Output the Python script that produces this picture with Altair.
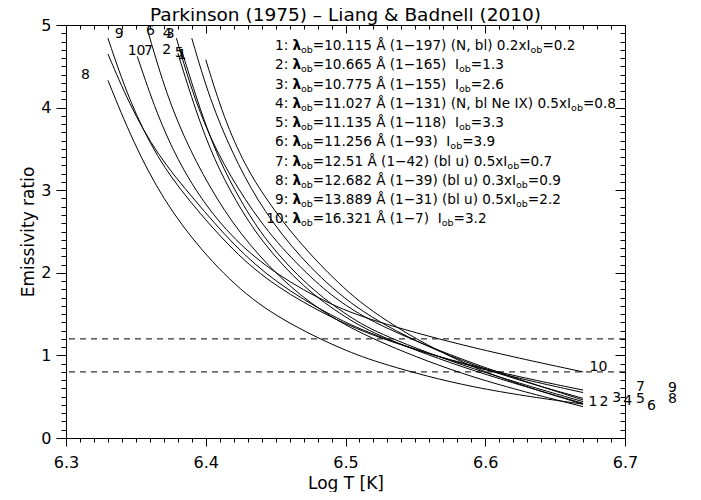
import altair as alt
import pandas as pd

W, H = 559, 413
X0, X1 = 6.3, 6.7
Y0, Y1 = 0.0, 5.0

# ---------------- curves ----------------
curve_names = ["1", "2", "3", "4", "5", "6", "7", "8", "9", "10"]
c1_x = [6.380, 6.393, 6.406, 6.421, 6.440, 6.470, 6.500, 6.525, 6.590, 6.670]
c1_y = [4.66, 3.95, 3.37, 2.88, 2.37, 1.815, 1.455, 1.22, 0.81, 0.42]
c2_x = [6.400, 6.413, 6.428, 6.4436, 6.465, 6.495, 6.525, 6.590, 6.670]
c2_y = [4.58, 3.87, 3.30, 2.88, 2.40, 1.86, 1.44, 0.82, 0.41]
c3_x = [6.390, 6.403, 6.419, 6.4365, 6.460, 6.490, 6.525, 6.590, 6.670]
c3_y = [4.84, 4.09, 3.45, 2.88, 2.33, 1.80, 1.37, 0.86, 0.48]
c4_x = [6.379, 6.392, 6.408, 6.428, 6.450, 6.480, 6.500, 6.525, 6.590, 6.670]
c4_y = [4.84, 4.09, 3.45, 2.88, 2.37, 1.86, 1.60, 1.35, 0.895, 0.46]
c5_x = [6.383, 6.396, 6.409, 6.4245, 6.443, 6.473, 6.503, 6.525, 6.590, 6.670]
c5_y = [4.68, 3.97, 3.38, 2.88, 2.38, 1.83, 1.46, 1.25, 0.83, 0.44]
c6_x = [6.359, 6.372, 6.388, 6.408, 6.430, 6.460, 6.490, 6.525, 6.590, 6.670]
c6_y = [4.90, 4.15, 3.50, 2.88, 2.35, 1.82, 1.45, 1.15, 0.72, 0.38]
c7_x = [6.330, 6.345, 6.365, 6.392, 6.420, 6.450, 6.490, 6.525, 6.590, 6.670]
c7_y = [4.65, 4.05, 3.43, 2.88, 2.33, 1.88, 1.47, 1.21, 0.85, 0.55]
c8_x = [6.330, 6.348, 6.3696, 6.396, 6.429, 6.463, 6.498, 6.525, 6.590, 6.670]
c8_y = [4.33, 3.58, 2.88, 2.28, 1.71, 1.35, 1.07, 0.90, 0.60, 0.41]
c9_x = [6.330, 6.345, 6.365, 6.3875, 6.420, 6.450, 6.490, 6.525, 6.590, 6.670]
c9_y = [4.84, 4.09, 3.39, 2.88, 2.25, 1.83, 1.45, 1.20, 0.86, 0.58]
c10_x = [6.351, 6.365, 6.380, 6.397, 6.420, 6.450, 6.490, 6.525, 6.590, 6.670]
c10_y = [4.62, 3.92, 3.36, 2.88, 2.40, 1.98, 1.60, 1.39, 1.09, 0.80]

curves_x = [c1_x, c2_x, c3_x, c4_x, c5_x, c6_x, c7_x, c8_x, c9_x, c10_x]
curves_y = [c1_y, c2_y, c3_y, c4_y, c5_y, c6_y, c7_y, c8_y, c9_y, c10_y]

# dashed reference levels
ref_levels = [1.2, 0.8]

# labels at the top of the curves
top_lab_text = ["9", "6", "4", "3", "10", "7", "2", "5", "1", "8"]
top_lab_x = [6.338, 6.3605, 6.3725, 6.3745, 6.3505, 6.359, 6.372, 6.381, 6.383, 6.314]
top_lab_y = [4.89, 4.93, 4.89, 4.89, 4.69, 4.68, 4.70, 4.66, 4.64, 4.40]

# labels at the end of the curves
end_lab_text = ["10", "1", "2", "3", "4", "5", "7", "6", "9", "8"]
end_lab_x = [6.681, 6.677, 6.685, 6.694, 6.702, 6.711, 6.711, 6.719, 6.734, 6.734]
end_lab_y = [0.86, 0.44, 0.43, 0.49, 0.45, 0.47, 0.62, 0.39, 0.60, 0.47]

# legend text
leg_num = ["1", "2", "3", "4", "5", "6", "7", "8", "9", "10"]
leg_wave = ["10.115", "10.665", "10.775", "11.027", "11.135", "11.256", "12.51", "12.682", "13.889", "16.321"]
leg_trans = ["(1\u2212197)", "(1\u2212165)", "(1\u2212155)", "(1\u2212131)", "(1\u2212118)",
             "(1\u221293)", "(1\u221242)", "(1\u221239)", "(1\u221231)", "(1\u22127)"]
leg_note = ["(N, bl) 0.2x", "", "", "(N, bl Ne IX) 0.5x", "", "", "(bl u) 0.5x", "(bl u) 0.3x", "(bl u) 0.5x", ""]
leg_iob = ["0.2", "1.3", "2.6", "0.8", "3.3", "3.9", "0.7", "0.9", "2.2", "3.2"]

x_major = [6.3, 6.4, 6.5, 6.6, 6.7]
x_minor = [round(6.3 + 0.01 * i, 2) for i in range(41)]
y_major = [0, 1, 2, 3, 4, 5]
y_minor = [round(0.1 * i, 1) for i in range(51)]

FONT = "DejaVu Sans"

# ---------------- tables ----------------
rows = []
for name, xs, ys in zip(curve_names, curves_x, curves_y):
    for k, (xv, yv) in enumerate(zip(xs, ys)):
        rows.append({"curve": name, "x": xv, "y": yv, "k": k})
df_curves = pd.DataFrame(rows)
df_ref = pd.DataFrame({"y": ref_levels})
df_top = pd.DataFrame({"x": top_lab_x, "y": top_lab_y, "t": top_lab_text})
df_end = pd.DataFrame({"x": end_lab_x, "y": end_lab_y, "t": end_lab_text})

# legend layout (approximate DejaVu Sans advance widths, em units)
CW = {" ": 0.318, ".": 0.318, ":": 0.337, "=": 0.838, "(": 0.390, ")": 0.390,
      "\u2212": 0.838, ",": 0.318, "\u00c5": 0.684, "N": 0.748, "b": 0.635,
      "l": 0.278, "e": 0.615, "I": 0.295, "X": 0.686, "u": 0.634, "x": 0.592,
      "o": 0.612, "\u03bb": 0.62}
for d in "0123456789":
    CW[d] = 0.636


def tw(s, size):
    return sum(CW.get(c, 0.6) for c in s) * size


FS, FS_SUB = 13.6, 9.5
px_x = W / (X1 - X0)
px_y = H / (Y1 - Y0)
LEG_LEFT = 209.0   # px from plot left
LEG_TOP = 20.0     # px from plot top (centre of first line)
LEG_STEP = 19.25

norm_rows, pref_rows, sub_rows, bold_rows = [], [], [], []


def to_x(px):
    return X0 + px / px_x


def to_y(py):
    return Y1 - py / px_y


def put_words(s, cursor, yb):
    word, start = "", cursor
    for c in s:
        if c == " ":
            if word:
                norm_rows.append({"x": to_x(start), "y": yb, "t": word})
                word = ""
            cursor += tw(" ", FS)
            start = cursor
        else:
            if not word:
                start = cursor
            word += c
            cursor += tw(c, FS)
    if word:
        norm_rows.append({"x": to_x(start), "y": yb, "t": word})
    return cursor


lam_px = LEG_LEFT + tw("1: ", FS)
for i in range(len(leg_num)):
    base_px = LEG_TOP + i * LEG_STEP + 5.0
    yb = to_y(base_px)
    ys = to_y(base_px + 3.0)
    pref_rows.append({"x": to_x(lam_px - tw(" ", FS)), "y": yb, "t": leg_num[i] + ":"})
    bold_rows.append({"x": to_x(lam_px), "y": yb, "t": "\u03bb"})
    cur = lam_px + tw("\u03bb", FS)
    sub_rows.append({"x": to_x(cur), "y": ys, "t": "ob"})
    cur += tw("ob", FS_SUB)
    mid = "=" + leg_wave[i] + " \u00c5 " + leg_trans[i] + " " + (leg_note[i] if leg_note[i] else " ") + "I"
    cur = put_words(mid, cur, yb)
    sub_rows.append({"x": to_x(cur), "y": ys, "t": "ob"})
    cur += tw("ob", FS_SUB)
    put_words("=" + leg_iob[i], cur, yb)

df_norm = pd.DataFrame(norm_rows)
df_pref = pd.DataFrame(pref_rows)
df_sub = pd.DataFrame(sub_rows)
df_bold = pd.DataFrame(bold_rows)

# ---------------- scales & axes ----------------
xs_ = alt.Scale(domain=[X0, X1], nice=False, zero=False)
ys_ = alt.Scale(domain=[Y0, Y1], nice=False, zero=False)

ax_bottom_major = alt.Axis(orient="bottom", values=x_major, format=".1f", tickSize=8,
                           labelPadding=8, labelFlush=False, title="Log T [K]", titlePadding=5)
ax_bottom_minor = alt.Axis(orient="bottom", values=x_minor, tickSize=4, labels=False, title=None)
ax_top_major = alt.Axis(orient="bottom", offset=-H, values=x_major, tickSize=8, labels=False, title=None)
ax_top_minor = alt.Axis(orient="bottom", offset=-H, values=x_minor, tickSize=4, labels=False, title=None)
ax_left_major = alt.Axis(orient="left", values=y_major, format="d", tickSize=10, labelFlush=False,
                         labelPadding=5, title="Emissivity ratio", titlePadding=3)
ax_left_minor = alt.Axis(orient="left", values=y_minor, tickSize=5, labels=False, title=None)
ax_right_major = alt.Axis(orient="left", offset=-W, values=y_major, tickSize=10, labels=False, title=None)
ax_right_minor = alt.Axis(orient="left", offset=-W, values=y_minor, tickSize=5, labels=False, title=None)

lines = alt.Chart(df_curves).mark_line(color="black", strokeWidth=1, interpolate="basis").encode(
    x=alt.X("x:Q", scale=xs_, axis=ax_bottom_major),
    y=alt.Y("y:Q", scale=ys_, axis=ax_left_major),
    detail="curve:N",
    order="k:Q",
)

rules = alt.Chart(df_ref).mark_rule(color="black", strokeWidth=1, strokeDash=[6, 5]).encode(
    y=alt.Y("y:Q", scale=ys_, axis=None)
)

txt = dict(font=FONT, fontSize=14, color="black")

top_labels = alt.Chart(df_top).mark_text(align="center", baseline="middle", **txt).encode(
    x=alt.X("x:Q", scale=xs_, axis=ax_bottom_minor),
    y=alt.Y("y:Q", scale=ys_, axis=ax_left_minor),
    text="t:N",
)
end_labels = alt.Chart(df_end).mark_text(align="center", baseline="middle", **txt).encode(
    x=alt.X("x:Q", scale=xs_, axis=ax_top_major),
    y=alt.Y("y:Q", scale=ys_, axis=ax_right_major),
    text="t:N",
)
ltxt = dict(font=FONT, fontSize=FS, color="black")
leg_norm = alt.Chart(df_norm).mark_text(align="left", baseline="alphabetic", **ltxt).encode(
    x=alt.X("x:Q", scale=xs_, axis=ax_top_minor),
    y=alt.Y("y:Q", scale=ys_, axis=ax_right_minor),
    text="t:N",
)
leg_pref = alt.Chart(df_pref).mark_text(align="right", baseline="alphabetic", **ltxt).encode(
    x=alt.X("x:Q", scale=xs_, axis=None),
    y=alt.Y("y:Q", scale=ys_, axis=None),
    text="t:N",
)
leg_bold = alt.Chart(df_bold).mark_text(align="left", baseline="alphabetic", fontWeight="bold", **ltxt).encode(
    x=alt.X("x:Q", scale=xs_, axis=None),
    y=alt.Y("y:Q", scale=ys_, axis=None),
    text="t:N",
)
leg_sub = alt.Chart(df_sub).mark_text(align="left", baseline="alphabetic", font=FONT, fontSize=FS_SUB,
                                      color="black").encode(
    x=alt.X("x:Q", scale=xs_, axis=None),
    y=alt.Y("y:Q", scale=ys_, axis=None),
    text="t:N",
)

chart = (
    alt.layer(lines, rules, top_labels, end_labels, leg_norm, leg_pref, leg_bold, leg_sub)
    .resolve_scale(x="shared", y="shared")
    .resolve_axis(x="independent", y="independent")
    .properties(
        width=W,
        height=H,
        title=alt.TitleParams("Parkinson (1975) \u2013 Liang & Badnell (2010)", font=FONT, fontSize=18.5,
                              fontWeight="normal", anchor="middle", color="black", offset=2, dy=9,
                              frame="group"),
        padding={"left": 58, "top": 17, "right": 60, "bottom": 54},
        autosize=alt.AutoSizeParams(type="none"),
        background="white",
    )
    .configure_view(stroke="black", strokeWidth=1)
    .configure_axis(domain=False, grid=False, tickColor="black", tickWidth=1, labelColor="black",
                    titleColor="black", labelFont=FONT, titleFont=FONT, labelFontSize=16,
                    titleFontSize=17, titleFontWeight="normal")
)

chart.save("out.html", embed_options={"renderer": "svg", "actions": False})
